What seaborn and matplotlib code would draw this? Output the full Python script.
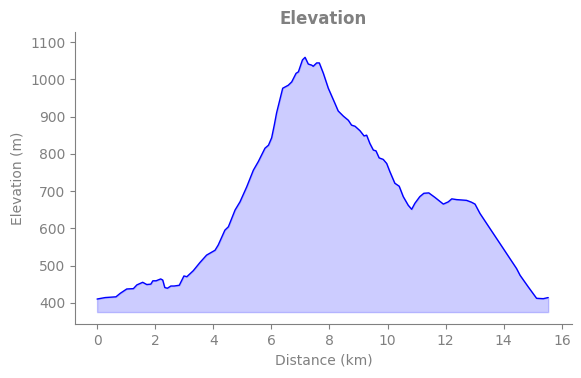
import numpy as np
import pandas as pd
import matplotlib
matplotlib.use("Agg")
import matplotlib.pyplot as plt
import seaborn as sns

# 거리(km)와 고도(m) - 그림에서 읽은 값
distance_km = [0.00, 0.28, 0.65, 0.79, 1.02, 1.25, 1.37, 1.57, 1.71, 1.85, 1.92, 2.03,
               2.19, 2.26, 2.33, 2.42, 2.54, 2.65, 2.83, 2.99, 3.09, 3.31, 3.54, 3.77,
               4.06, 4.17, 4.40, 4.52, 4.75, 4.92, 5.15, 5.38, 5.55, 5.78, 5.90, 6.01,
               6.10, 6.18, 6.39, 6.58, 6.70, 6.85, 6.93, 7.07, 7.16, 7.27, 7.39, 7.44, 7.56,
               7.65, 7.79, 7.96, 8.19, 8.30, 8.48, 8.65, 8.76, 8.88, 9.05, 9.19, 9.28,
               9.39, 9.51, 9.60, 9.71, 9.85, 9.97, 10.08, 10.25, 10.40, 10.54, 10.71,
               10.83, 10.94, 11.11, 11.25, 11.42, 11.63, 11.92, 12.09, 12.21, 12.38,
               12.72, 12.89, 13.01, 13.18, 13.52, 13.87, 14.21, 14.44, 14.56, 14.84,
               15.13, 15.36, 15.53]
elevation_m = [410, 414, 416, 425, 437, 438, 448, 455, 449, 450, 459, 459,
               464, 461, 441, 439, 445, 445, 447, 472, 470, 486, 508, 528,
               541, 555, 595, 604, 649, 671, 711, 756, 779, 815, 823, 843,
               877, 910, 976, 984, 993, 1016, 1020, 1052, 1059, 1041, 1038, 1035, 1044,
               1044, 1016, 976, 935, 915, 901, 890, 877, 874, 862, 848, 850,
               828, 810, 808, 789, 785, 774, 752, 721, 713, 685, 662,
               651, 667, 685, 694, 695, 683, 665, 671, 679, 677,
               675, 670, 665, 640, 600, 559, 519, 492, 474, 443,
               412, 411, 414]

df = pd.DataFrame({'distance': distance_km, 'elevation': elevation_m})
base = df.elevation.min() - 35

sns.set_style("ticks")
plt.rcParams['text.color'] = 'gray'
plt.rcParams['axes.labelcolor'] = 'gray'
plt.rcParams['xtick.color'] = 'gray'
plt.rcParams['ytick.color'] = 'gray'
plt.rcParams['axes.edgecolor'] = 'gray'

fig = plt.figure(figsize=(5.81, 3.78), dpi=100)
ax = fig.add_axes([75/581, 54/378, 497/581, 292/378])

ax.fill_between(df.distance, df.elevation, base, color='blue', alpha=0.2)
sns.lineplot(data=df, x='distance', y='elevation', color='blue', linewidth=1, ax=ax)

ax.set_xlim(-0.76, 16.35)
ax.set_ylim(343, 1127)
ax.set_xticks(range(0, 17, 2))
ax.set_yticks(range(400, 1101, 100))
ax.set_xlabel("Distance (km)")
ax.set_ylabel("Elevation (m)")
ax.set_title("Elevation", fontsize=12, fontweight='bold', color='gray')
sns.despine(ax=ax)

fig.savefig("out.png", dpi=100)
